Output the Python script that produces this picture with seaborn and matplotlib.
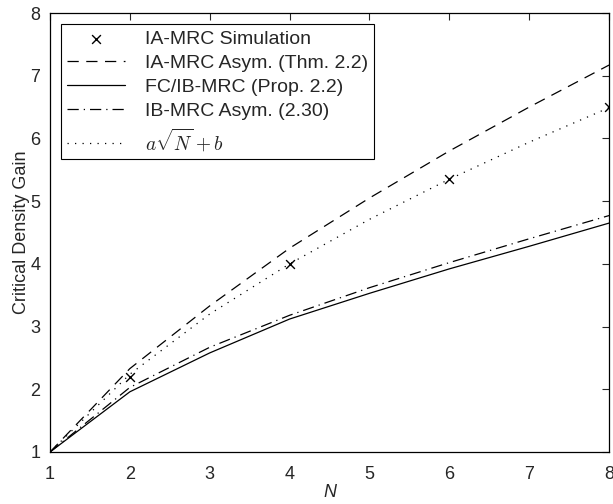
import matplotlib
matplotlib.use("Agg")
import matplotlib.pyplot as plt
import seaborn as sns
import pandas as pd

N_all = [1, 2, 3, 4, 5, 6, 7, 8]
N_sim = [2, 4, 6, 8]
sim_vals = [2.2, 4.0, 5.35, 6.5]
ia_asym = [1, 2.33, 3.33, 4.25, 5.05, 5.8, 6.5, 7.17]
fc_ib = [1, 1.96, 2.58, 3.12, 3.53, 3.92, 4.28, 4.65]
ib_asym = [1, 2.03, 2.67, 3.18, 3.62, 4.02, 4.40, 4.77]
fit_vals = [1, 2.24, 3.2, 4.0, 4.71, 5.35, 5.94, 6.49]

labels = ["IA-MRC Simulation", "IA-MRC Asym. (Thm. 2.2)", "FC/IB-MRC (Prop. 2.2)",
          "IB-MRC Asym. (2.30)", r"$a\sqrt{N}+b$"]

sns.set_style("white")
plt.rcParams['font.family'] = ['Liberation Sans', 'DejaVu Sans']
plt.rcParams['mathtext.fontset'] = 'cm'

fig = plt.figure(figsize=(6.13, 5.04), dpi=100)
ax = fig.add_axes([0.0816, 0.1032, 0.912, 0.871])

df_sim = pd.DataFrame({"N": N_sim, "v": sim_vals})
sns.scatterplot(data=df_sim, x="N", y="v", ax=ax, marker="x", color="black", s=40,
                linewidth=1.0, label=labels[0], zorder=5)
sns.lineplot(x=N_all, y=ia_asym, ax=ax, color="black", lw=0.9, label=labels[1],
             linestyle=(0, (9, 6)))
sns.lineplot(x=N_all, y=fc_ib, ax=ax, color="black", lw=0.9, label=labels[2])
sns.lineplot(x=N_all, y=ib_asym, ax=ax, color="black", lw=0.9, label=labels[3],
             linestyle=(0, (9, 4, 1, 4)))
sns.lineplot(x=N_all, y=fit_vals, ax=ax, color="black", lw=0.9, label=labels[4],
             linestyle=(0, (1, 5)))

ax.set_xlim(1, 8)
ax.set_ylim(1, 8)
ax.set_xticks(range(1, 9))
ax.set_yticks(range(1, 9))
ax.tick_params(axis="both", direction="in", top=True, right=True, length=5, width=0.8,
               labelsize=13)
ax.tick_params(axis="x", pad=10)
ax.tick_params(axis="y", pad=7)
for s in ax.spines.values():
    s.set_linewidth(0.9)
    s.set_color("black")
ax.set_xlabel("N", fontsize=13, style="italic", labelpad=1)
ax.set_ylabel("Critical Density Gain", fontsize=13, labelpad=0)

leg = ax.legend(loc="upper left", bbox_to_anchor=(0.02, 0.974), fontsize=14,
                frameon=True, fancybox=False, edgecolor="black", framealpha=1,
                handlelength=3.0, borderpad=0.3, labelspacing=0.33, handletextpad=1.0,
                borderaxespad=0)
leg.get_frame().set_linewidth(0.8)

fig.savefig("out.png", dpi=100)
